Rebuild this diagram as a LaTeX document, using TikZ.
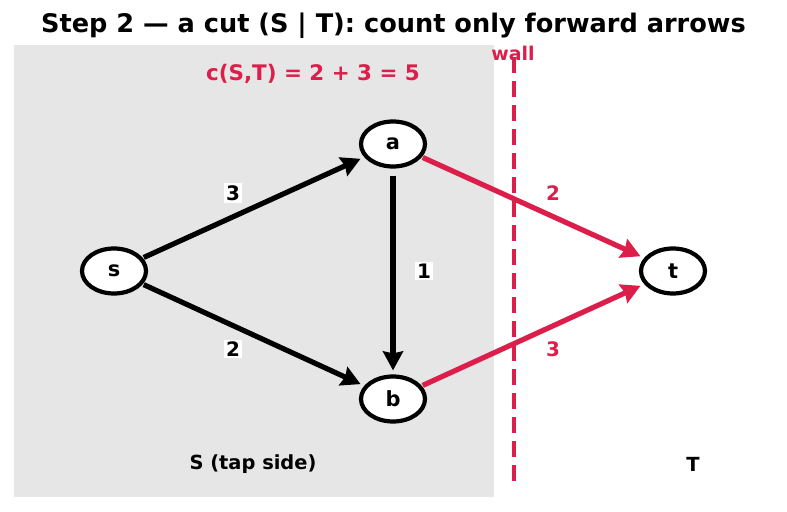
\documentclass[tikz,border=0pt]{standalone}
\usepackage{fontspec}
\setmainfont{DejaVu Sans}
\usetikzlibrary{arrows.meta,shapes.geometric}
\definecolor{cut}{HTML}{DC1E4A}
\definecolor{sidegray}{HTML}{E6E6E6}
\tikzset{
  vtx/.style={draw=black, line width=4.2bp, ellipse, fill=white, minimum width=64bp, minimum height=45bp, inner sep=0pt, font=\bfseries\fontsize{21}{21}\selectfont},
  edge/.style={line width=5.2bp, -{Stealth[length=19bp,width=20bp,inset=2bp]}, shorten >=4bp, shorten <=1bp},
  cutedge/.style={edge, draw=cut, color=cut},
  wlabel/.style={fill=white, inner sep=2bp, font=\bfseries\fontsize{20}{20}\selectfont},
  clabel/.style={text=cut, font=\bfseries\fontsize{20}{20}\selectfont},
}
\begin{document}
\begin{tikzpicture}[x=1bp,y=-1bp]
\useasboundingbox (0,0) rectangle (787,512);
\fill[sidegray] (14,45) rectangle (494,497);
\node[font=\bfseries\fontsize{25.7}{25.7}\selectfont] (title) at (393.5,26) {Step 2 — a cut (S | T): count only forward arrows};
\coordinate (wtop) at (514,57);
\coordinate (wbot) at (514,483);
\draw[cut, line width=4.5bp, dash pattern=on 16bp off 8bp] (wtop) -- (wbot);
\node[text=cut, font=\bfseries\fontsize{19}{19}\selectfont] (wall) at (513,53) {wall};
\node[text=cut, font=\bfseries\fontsize{21.5}{21.5}\selectfont] (cap) at (313,74) {c(S,T) = 2 + 3 = 5};
\node[vtx] (s) at (114,271) {s};
\node[vtx] (a) at (393,144) {a};
\node[vtx] (b) at (393,399) {b};
\node[vtx] (t) at (673,271) {t};
\draw[edge] (s) -- (a);
\draw[edge] (s) -- (b);
\draw[edge, shorten <=7bp] (a) -- (b);
\draw[cutedge] (a) -- (t);
\draw[cutedge] (b) -- (t);
\node[wlabel] (l1) at (233,193) {3};
\node[wlabel] (l2) at (233,349) {2};
\node[wlabel] (l3) at (424,271) {1};
\node[clabel] (l4) at (553,193) {2};
\node[clabel] (l5) at (553,349) {3};
\node[font=\bfseries\fontsize{19.5}{19.5}\selectfont] (S) at (253,464) {S (tap side)};
\node[font=\bfseries\fontsize{19.5}{19.5}\selectfont] (T) at (693,464) {T};
\end{tikzpicture}
\end{document}
